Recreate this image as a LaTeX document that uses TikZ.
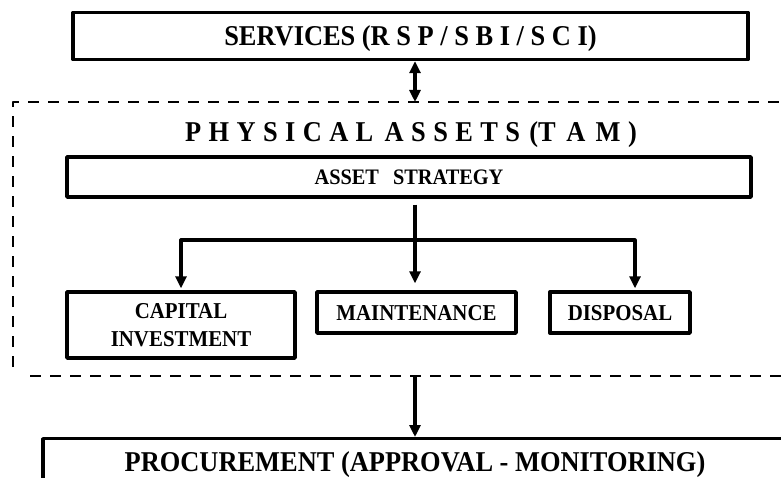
\documentclass[tikz,border=0pt]{standalone}
\usepackage{fontspec}
\setmainfont{Liberation Serif}[FakeStretch=0.92]
\usetikzlibrary{arrows.meta}
\begin{document}
\begin{tikzpicture}[x=1pt,y=-1pt,line join=round,>={Triangle[width=11pt,length=12pt]},
		box/.style={draw,line width=3.4pt,inner sep=0pt,font=\bfseries\fontsize{22.7}{25}\selectfont},
		tall/.style={text height=15pt,text depth=0pt},
		big/.style={text height=19pt,text depth=0pt,font=\bfseries\fontsize{28.7}{32}\selectfont},
		link/.style={line width=3.2pt},
		frame/.style={line width=2.6pt,dash pattern=on 11pt off 9pt}]
		\useasboundingbox (0,0) rectangle (781,478);
		\coordinate (ftop) at (415,102);
		\coordinate (fbot) at (415,376);
		\coordinate (split) at (415,240);
		% dashed frame round the physical assets
		\draw[frame] (13,367) |- (800,102);
		\draw[frame] (30,376) -- (800,376);
		\node[box,big,minimum width=675pt,minimum height=47pt] (serv) at (410.5,36) {SERVICES (R S P / S B I / S C I)};
		\node[big] (phys) at (411,132) {\spaceskip=7.4pt\relax P H Y S I C A L\hspace{4pt} A S S E T S\hspace{2pt} (T\hspace{3pt} A\hspace{3pt} M )};
		\node[box,minimum width=684pt,minimum height=40pt,text height=14.6pt,text depth=0pt,font=\bfseries\fontsize{22.1}{25}\selectfont] (strat) at (409,177) {ASSET\hspace{14pt}STRATEGY};
		\node[box,align=center,minimum width=228pt,minimum height=66pt] (capinv) at (181,325) {CAPITAL\\[3pt]INVESTMENT};
		\node[box,tall,minimum width=199pt,minimum height=41pt] (maint) at (416.5,312.5) {MAINTENANCE};
		\node[box,tall,minimum width=140pt,minimum height=41pt] (disp) at (620,312.5) {DISPOSAL};
		\node[box,big,anchor=north,minimum width=744pt,inner ysep=14pt] (proc) at (415,437) {PROCUREMENT (APPROVAL - MONITORING)};
		% connectors
		\draw[link,<->] (serv.south -| ftop) -- (ftop);
		\draw[link,shorten <=6pt] (strat.south -| split) -- (split);
		\draw[link,->,shorten >=7pt] (split) -- (maint.north -| split);
		\draw[link,->,shorten >=2pt] (split) -| (capinv.north);
		\draw[link,->,shorten >=2pt] (split) -| ([xshift=15pt]disp.north);
		\draw[link,->] (fbot) -- (proc.north -| fbot);
\end{tikzpicture}
\end{document}
